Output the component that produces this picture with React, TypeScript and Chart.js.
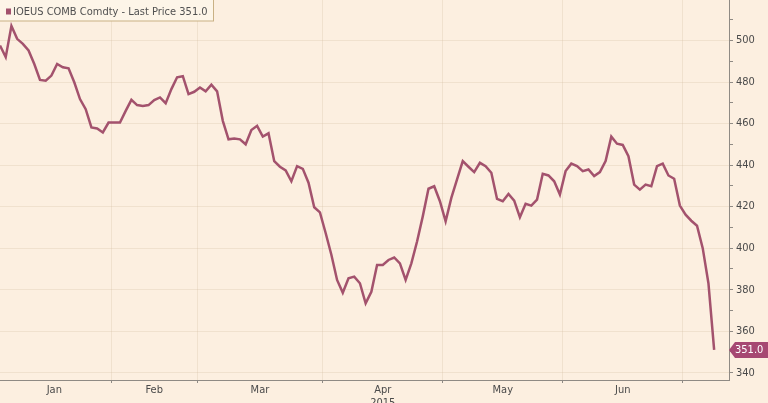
import React, { useEffect, useRef } from 'react';
import { Chart, registerables } from 'chart.js';

Chart.register(...registerables);

const seriesName = 'IOEUS COMB Comdty - Last Price';
const lastPrice = 351.0;
const yearLabel = '2015';
const monthLabels = ['Jan', 'Feb', 'Mar', 'Apr', 'May', 'Jun'];
// trading-day index at which each month begins (last entry = first day of Jul)
const monthStarts = [0, 20, 35, 57, 78, 99, 120];
const yMajorTicks = [340, 360, 380, 400, 420, 440, 460, 480, 500];
const yMinorStep = 10;

const prices = [
  497.6, 492.0, 507.0, 500.8, 498.4, 495.2, 488.7, 481.0, 480.6, 483.1,
  488.7, 487.1, 486.6, 479.9, 471.8, 466.9, 458.1, 457.6, 455.7, 460.5,
  460.5, 460.5, 466.1, 471.4, 468.9, 468.5, 468.9, 471.3, 472.6, 469.8,
  476.6, 482.3, 482.8, 474.2, 475.3, 477.4, 475.5, 478.7, 475.5, 461.3,
  452.4, 452.8, 452.4, 450.0, 456.9, 458.9, 453.7, 455.3, 441.9, 439.2,
  437.4, 432.2, 439.5, 438.2, 431.5, 419.7, 417.2, 407.3, 396.8, 384.7,
  378.5, 385.5, 386.3, 383.1, 373.4, 379.0, 391.9, 391.9, 394.3, 395.5,
  392.7, 384.7, 392.7, 403.2, 415.3, 428.6, 429.8, 422.6, 412.9, 424.2,
  433.1, 441.9, 439.2, 436.6, 441.1, 439.5, 436.3, 423.7, 422.6, 426.1,
  422.9, 414.9, 421.4, 420.5, 423.4, 435.8, 435.0, 432.2, 425.8, 437.1,
  440.7, 439.5, 437.1, 437.9, 434.7, 436.6, 441.9, 453.7, 450.3, 449.7,
  444.3, 430.6, 428.2, 430.6, 429.8, 439.5, 440.7, 435.0, 433.4, 420.5,
  416.1, 413.2, 410.8, 400.0, 383.1, 351.0,
];

const BG = '#fcefe0';
const LINE = '#a3526d';
const LABEL_BG = '#a64872';
const GRID = 'rgba(205, 180, 150, 0.24)';
const AXIS = '#8f8a84';
const TEXT = '#4a4a4a';
const FONT = '"DejaVu Sans Condensed", "DejaVu Sans", sans-serif';

const boundaries = monthStarts.slice(1).map((s) => s - 0.5);
const centers = monthLabels.map((_, i) => ((i === 0 ? -0.5 : monthStarts[i] - 0.5) + (monthStarts[i + 1] - 0.5)) / 2);

export default function App() {
  const ref = useRef<HTMLCanvasElement | null>(null);

  useEffect(() => {
    document.body.style.margin = '0';
    document.body.style.background = BG;
    if (!ref.current) return;

    const overlay = {
      id: 'overlay',
      afterDraw(chart: any) {
        const ctx = chart.ctx;
        const y = chart.scales.y;
        const area = chart.chartArea;
        ctx.save();
        // legend box
        ctx.fillStyle = '#fdf5e8';
        ctx.strokeStyle = '#c9b184';
        ctx.lineWidth = 1;
        ctx.fillRect(-2, -2, 215.5, 23);
        ctx.strokeRect(-2, -2, 215.5, 23);
        ctx.fillStyle = LINE;
        ctx.fillRect(6, 8.5, 5, 6);
        ctx.fillStyle = '#505050';
        ctx.font = `11px ${FONT}`;
        ctx.textBaseline = 'middle';
        ctx.textAlign = 'left';
        ctx.fillText(`${seriesName} ${lastPrice.toFixed(1)}`, 13, 12);
        // year label (partly cut off at the bottom, as in the original)
        ctx.fillStyle = TEXT;
        ctx.font = `11px ${FONT}`;
        ctx.textAlign = 'center';
        ctx.textBaseline = 'top';
        const xs = chart.scales.x;
        ctx.fillText(yearLabel, xs.getPixelForValue(centers[3]), 398);
        // last price tag
        const py = y.getPixelForValue(lastPrice);
        const x0 = area.right;
        ctx.fillStyle = LABEL_BG;
        ctx.beginPath();
        ctx.moveTo(x0, py);
        ctx.lineTo(x0 + 6, py - 8);
        ctx.lineTo(chart.width, py - 8);
        ctx.lineTo(chart.width, py + 8);
        ctx.lineTo(x0 + 6, py + 8);
        ctx.closePath();
        ctx.fill();
        ctx.fillStyle = '#ffffff';
        ctx.font = `11px ${FONT}`;
        ctx.textAlign = 'left';
        ctx.textBaseline = 'middle';
        ctx.fillText(lastPrice.toFixed(1), x0 + 6, py + 0.5);
        ctx.restore();
      },
    };

    const chart = new Chart(ref.current, {
      type: 'line',
      data: {
        datasets: [
          {
            data: prices.map((v, i) => ({ x: i, y: v })),
            borderColor: LINE,
            borderWidth: 2.5,
            pointRadius: 0,
            tension: 0,
            fill: false,
          },
        ],
      },
      options: {
        animation: false,
        responsive: true,
        maintainAspectRatio: false,
        layout: { padding: 0 },
        plugins: { legend: { display: false }, tooltip: { enabled: false } },
        scales: {
          x: {
            type: 'linear',
            min: 0,
            max: 127.6,
            afterBuildTicks(scale: any) {
              scale.ticks = [...boundaries, ...centers].sort((a, b) => a - b).map((value) => ({ value }));
            },
            afterFit(scale: any) {
              scale.height = 23;
              scale.paddingLeft = 0;
              scale.paddingRight = 0;
            },
            ticks: {
              autoSkip: false,
              maxRotation: 0,
              padding: 1,
              color: TEXT,
              font: { family: FONT, size: 11 },
              callback(value: any) {
                const idx = centers.indexOf(Number(value));
                return idx >= 0 ? monthLabels[idx] : '';
              },
            },
            grid: {
              color: (c: any) => (c.tick && boundaries.includes(c.tick.value) ? GRID : 'rgba(0,0,0,0)'),
              tickColor: (c: any) => (c.tick && boundaries.includes(c.tick.value) ? AXIS : 'rgba(0,0,0,0)'),
              tickLength: 3,
            },
            border: { color: AXIS, width: 1 },
          },
          y: {
            type: 'linear',
            position: 'right',
            min: 336.5,
            max: 519.5,
            afterBuildTicks(scale: any) {
              const t: { value: number }[] = [];
              for (let v = yMajorTicks[0]; v <= 510; v += yMinorStep) t.push({ value: v });
              scale.ticks = t;
            },
            afterFit(scale: any) {
              scale.width = 39;
              scale.paddingTop = 0;
              scale.paddingBottom = 0;
            },
            ticks: {
              padding: 3,
              color: TEXT,
              font: { family: FONT, size: 11 },
              callback(value: any) {
                return yMajorTicks.includes(Number(value)) ? String(value) : '';
              },
            },
            grid: {
              color: (c: any) => (c.tick && yMajorTicks.includes(c.tick.value) ? GRID : 'rgba(0,0,0,0)'),
              tickColor: AXIS,
              tickLength: 4,
            },
            border: { color: AXIS, width: 1 },
          },
        },
      },
      plugins: [overlay],
    });
    return () => chart.destroy();
  }, []);

  return (
    <div style={{ width: 768, height: 403, position: 'relative', background: BG }}>
      <canvas ref={ref} />
    </div>
  );
}
